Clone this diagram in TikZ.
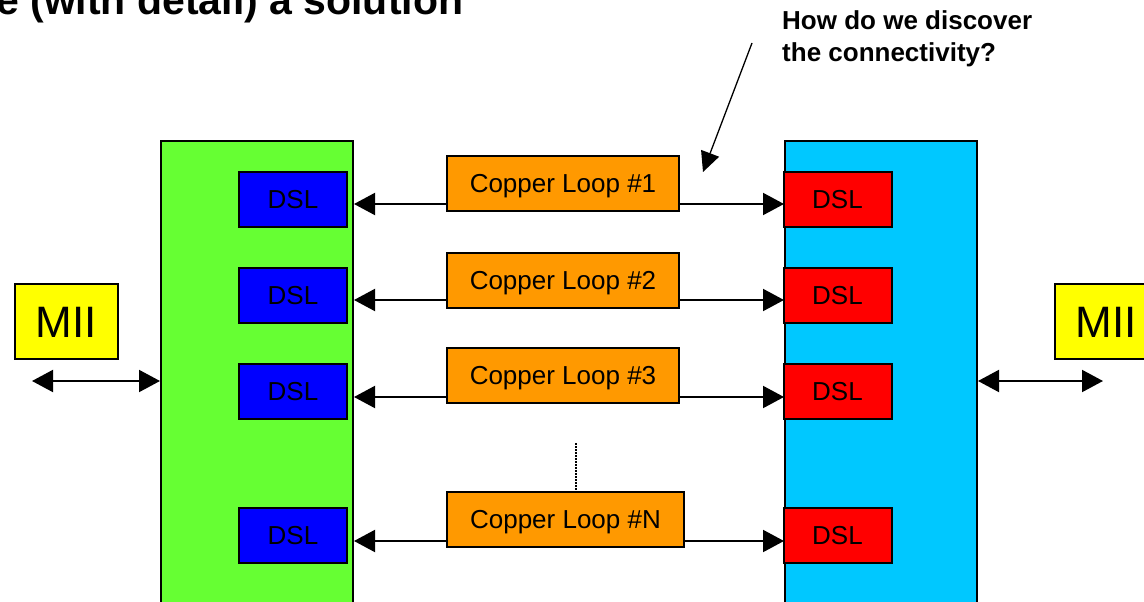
\documentclass[tikz,border=0pt]{standalone}
\usepackage{fontspec}
\setmainfont{Liberation Sans}
\usetikzlibrary{arrows.meta}
\definecolor{leaf}{HTML}{66FF33}
\definecolor{sky}{HTML}{00C8FF}
\definecolor{dslblue}{HTML}{0000FF}
\definecolor{dslred}{HTML}{FF0000}
\definecolor{copper}{HTML}{FF9900}
\definecolor{miiyel}{HTML}{FFFF00}
\tikzset{
  card/.style={draw=black, line width=2pt, minimum width=192, minimum height=520, anchor=north west, inner sep=0pt},
  dsl/.style={draw=black, line width=2pt, minimum width=108, minimum height=55, inner sep=0pt, font=\fontsize{26}{31}\selectfont, text height=18.6pt, text depth=0pt},
  loopbox/.style={draw=black, line width=2pt, fill=copper, minimum width=232, minimum height=55, inner sep=0pt, font=\fontsize{26}{31}\selectfont, text height=18.6pt, text depth=0pt},
  miibox/.style={draw=black, line width=2pt, fill=miiyel, minimum width=103, minimum height=75, inner sep=0pt, font=\fontsize{44}{52}\selectfont, text height=31.5pt, text depth=0pt},
  link/.style={draw=black, line width=2pt},
  ask/.style={draw=black, line width=1.3pt, -{Triangle[length=20pt,width=19pt]}},
  dots/.style={draw=black, line width=1.5pt, dash pattern=on 1.5pt off 1.5pt},
  lab/.style={inner sep=0pt, anchor=base west},
}
\begin{document}
\begin{tikzpicture}[x=1pt, y=-1pt, >={Triangle[length=21pt,width=22pt]}]
  \useasboundingbox (0,0) rectangle (1144,602);
  \clip (0,0) rectangle (1144,602);

  \node[lab, font=\bfseries\fontsize{41}{49}\selectfont] (title) at (-4,15) {e (with detail) a solution};
  \node[lab, align=left, font=\bfseries\fontsize{26}{32}\selectfont] (q) at (782,62) {How do we discover\\the connectivity?};

  \node[card, fill=leaf] (lcard) at (160,140) {};
  \node[card, fill=sky] (rcard) at (784,140) {};

  \node[dsl, fill=dslblue] (L1) at (293,199.5) {DSL};
  \node[dsl, fill=dslblue] (L2) at (293,295.5) {DSL};
  \node[dsl, fill=dslblue] (L3) at (293,391.5) {DSL};
  \node[dsl, fill=dslblue] (LN) at (293,535.5) {DSL};
  \node[dsl, fill=dslred] (R1) at (837.5,199.5) {DSL};
  \node[dsl, fill=dslred] (R2) at (837.5,295.5) {DSL};
  \node[dsl, fill=dslred] (R3) at (837.5,391.5) {DSL};
  \node[dsl, fill=dslred] (RN) at (837.5,535.5) {DSL};

  \coordinate (w1) at (565,204);
  \coordinate (w2) at (565,300);
  \coordinate (w3) at (565,397);
  \coordinate (wN) at (565,541);
  \draw[link, <->] (lcard.east |- w1) -- (rcard.west |- w1);
  \draw[link, <->] (lcard.east |- w2) -- (rcard.west |- w2);
  \draw[link, <->] (lcard.east |- w3) -- (rcard.west |- w3);
  \draw[link, <->] (lcard.east |- wN) -- (rcard.west |- wN);

  \node[loopbox] (C1) at (563,183.5) {Copper Loop \#1};
  \node[loopbox] (C2) at (563,280) {Copper Loop \#2};
  \node[loopbox] (C3) at (563,375.5) {Copper Loop \#3};
  \node[loopbox, minimum width=237] (CN) at (565.5,519.5) {Copper Loop \#N};

  \coordinate (gap) at (576,443);
  \draw[dots] (gap) -- (gap |- CN.north);

  \node[miibox] (mleft) at (66.5,321.5) {MII};
  \node[miibox] (mright) at (1106.5,321.5) {MII};
  \coordinate (eL) at (32,381);
  \coordinate (eR) at (1103,381);
  \draw[link, <->] (eL) -- (lcard.west |- eL);
  \draw[link, <->] (rcard.east |- eR) -- (eR);

  \coordinate (qa) at (752,43);
  \coordinate (qb) at (703,172);
  \draw[ask] (qa) -- (qb);
\end{tikzpicture}
\end{document}
